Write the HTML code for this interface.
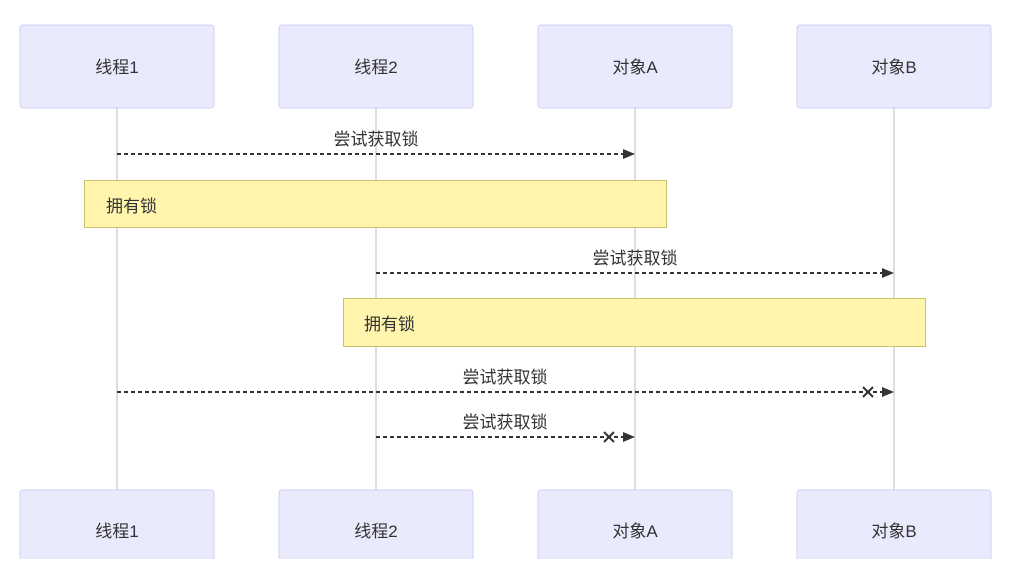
<!DOCTYPE html>
<html><head><meta charset="utf-8"><style>
body{margin:0;background:#fff;}
svg text{font-family:"Liberation Sans","Noto Sans CJK SC",sans-serif;}
</style></head><body>
<svg width="1024" height="576" viewBox="0 0 1024 576" xmlns="http://www.w3.org/2000/svg">
<defs>
<marker id="ah" markerWidth="12" markerHeight="10" refX="11" refY="5" orient="auto" markerUnits="userSpaceOnUse">
<path d="M0,0 L12,5 L0,10 z" fill="#333"/></marker>
</defs>
<g stroke="#c8c8c8" stroke-width="1.2">
<line x1="117" y1="108" x2="117" y2="490"/>
<line x1="376" y1="108" x2="376" y2="490"/>
<line x1="635" y1="108" x2="635" y2="490"/>
<line x1="894" y1="108" x2="894" y2="490"/>
</g>
<g fill="#eaeafd" stroke="#d0d0f5" stroke-width="1">
<rect x="20" y="25" width="194" height="83" rx="3"/>
<rect x="279" y="25" width="194" height="83" rx="3"/>
<rect x="538" y="25" width="194" height="83" rx="3"/>
<rect x="797" y="25" width="194" height="83" rx="3"/>
<rect x="20" y="490" width="194" height="83" rx="3"/>
<rect x="279" y="490" width="194" height="83" rx="3"/>
<rect x="538" y="490" width="194" height="83" rx="3"/>
<rect x="797" y="490" width="194" height="83" rx="3"/>
</g>
<rect x="0" y="559" width="1024" height="17" fill="#fff"/>
<g font-size="17" fill="#333" text-anchor="middle">
<text x="117" y="73">线程1</text><text x="376" y="73">线程2</text>
<text x="635" y="73">对象A</text><text x="894" y="73">对象B</text>
<text x="117" y="537">线程1</text><text x="376" y="537">线程2</text>
<text x="635" y="537">对象A</text><text x="894" y="537">对象B</text>
</g>
<g stroke="#333" stroke-width="2" stroke-dasharray="4,3" fill="none">
<line x1="117" y1="154" x2="634" y2="154" marker-end="url(#ah)"/>
<line x1="376" y1="273" x2="893" y2="273" marker-end="url(#ah)"/>
<line x1="117" y1="392" x2="893" y2="392" marker-end="url(#ah)"/>
<line x1="376" y1="437" x2="634" y2="437" marker-end="url(#ah)"/>
</g>
<g stroke="#333" stroke-width="2">
<path d="M863,387 L873,397 M873,387 L863,397"/>
<path d="M604,432 L614,442 M614,432 L604,442"/>
</g>
<rect x="84.5" y="180.5" width="582" height="47" fill="#fff5ad" stroke="#c9c46a"/>
<rect x="343.5" y="298.5" width="582" height="48" fill="#fff5ad" stroke="#c9c46a"/>
<g font-size="17" fill="#333">
<text x="106" y="212">拥有锁</text>
<text x="364" y="330">拥有锁</text>
</g>
<g font-size="17" fill="#333" text-anchor="middle">
<text x="376" y="145">尝试获取锁</text>
<text x="635" y="264">尝试获取锁</text>
<text x="505" y="383">尝试获取锁</text>
<text x="505" y="428">尝试获取锁</text>
</g>
</svg>
</body></html>
